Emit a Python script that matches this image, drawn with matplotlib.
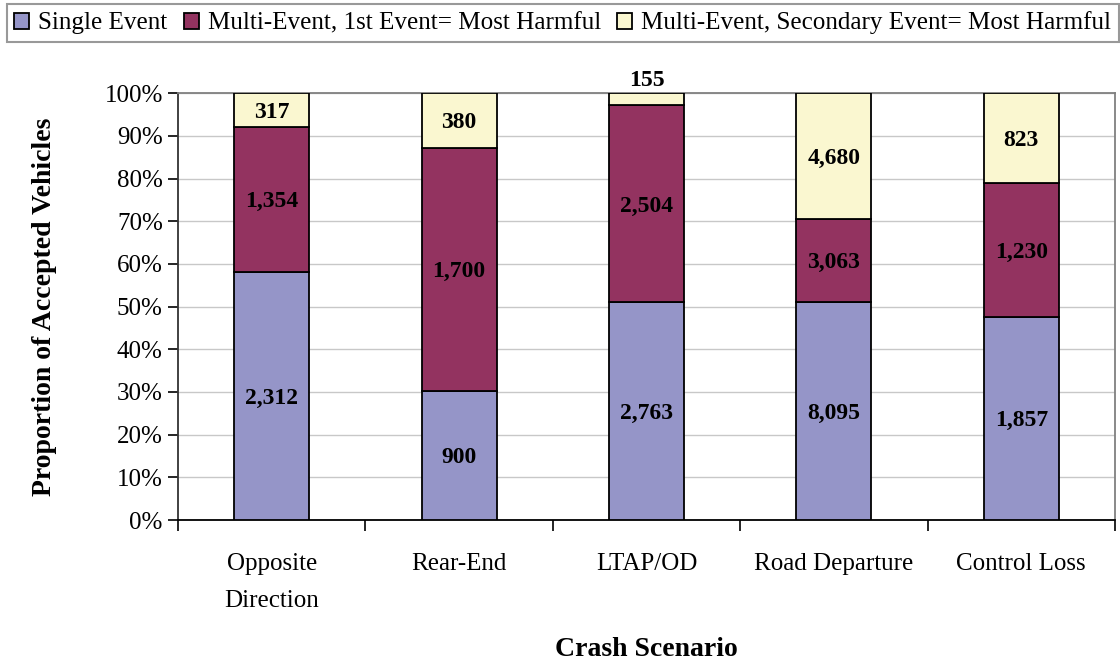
import numpy as np
import matplotlib.pyplot as plt
from matplotlib.ticker import PercentFormatter, FixedLocator

plt.rcParams['font.family'] = ['Liberation Serif', 'DejaVu Serif']

scenarios = ["Opposite\nDirection", "Rear-End", "LTAP/OD", "Road Departure", "Control Loss"]
single_event = [2312, 900, 2763, 8095, 1857]
multi_first = [1354, 1700, 2504, 3063, 1230]
multi_secondary = [317, 380, 155, 4680, 823]

series_names = ["Single Event", "Multi-Event, 1st Event= Most Harmful",
                "Multi-Event, Secondary Event= Most Harmful"]
colors = ['#9595C8', '#933360', '#FAF7D0']

counts = np.array([single_event, multi_first, multi_secondary], dtype=float)
shares = counts / counts.sum(axis=0)

fig = plt.figure(figsize=(11.2, 6.61), dpi=100)
ax = fig.add_axes([0.159, 0.2133, 0.8365, 0.6458])

x = np.arange(len(scenarios))
bottom = np.zeros(len(scenarios))
for i in range(3):
    ax.bar(x, shares[i], 0.4, bottom=bottom, color=colors[i], edgecolor='black',
           linewidth=1.3, label=series_names[i], zorder=3)
    for j in range(len(scenarios)):
        # thin top segment: label sits above the bar
        if shares[i][j] < 0.05:
            ypos = bottom[j] + shares[i][j] + 0.005
            va = 'bottom'
        else:
            ypos = bottom[j] + shares[i][j] / 2 - 0.005
            va = 'center'
        ax.text(x[j], ypos, f"{int(counts[i][j]):,}", ha='center', va=va,
                fontsize=17, fontweight='bold', zorder=4)
    bottom += shares[i]

ax.set_xlim(-0.5, len(scenarios) - 0.5)
ax.set_ylim(0, 1)
ax.yaxis.set_major_locator(FixedLocator(np.arange(0, 1.01, 0.1)))
ax.yaxis.set_major_formatter(PercentFormatter(1.0, decimals=0))
ax.set_xticks(x)
ax.set_xticklabels(scenarios, linespacing=1.85, va='top')
ax.xaxis.set_minor_locator(FixedLocator(np.arange(-0.5, len(scenarios), 1.0)))
ax.tick_params(axis='x', which='major', length=0, pad=24, labelsize=18)
ax.tick_params(axis='x', which='minor', length=8, width=1.2, direction='out')
ax.tick_params(axis='y', length=7, width=1.2, direction='out', labelsize=18, pad=4)

ax.grid(axis='y', color='#C8C8C8', linewidth=1, zorder=0)
ax.spines['top'].set_color('#808080')
ax.spines['right'].set_color('#808080')
ax.spines['left'].set_color('#333333')
ax.spines['bottom'].set_color('black')
for s in ax.spines.values():
    s.set_linewidth(1.3)

ax.set_ylabel("Proportion of Accepted Vehicles", fontsize=20, fontweight='bold', labelpad=34)
ax.set_xlabel("Crash Scenario", fontsize=20, fontweight='bold', labelpad=18)

leg = fig.legend(loc='upper left', bbox_to_anchor=(0.006, 0.994), ncol=3, fontsize=18.1,
                 frameon=True, fancybox=False, edgecolor='#808080', handlelength=0.6,
                 handleheight=0.6, handletextpad=0.35, columnspacing=0.65,
                 borderpad=0.3, borderaxespad=0)
leg.get_frame().set_linewidth(1.5)

fig.savefig("out.png", dpi=100)
